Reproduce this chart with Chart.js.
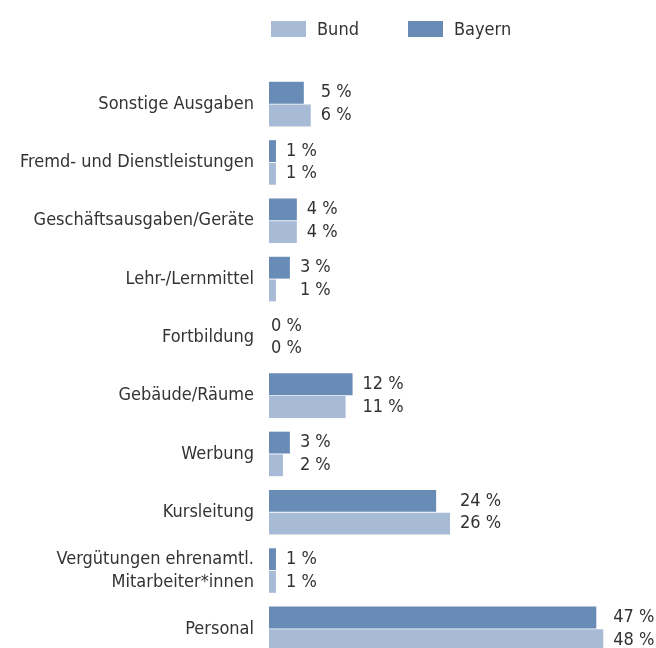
<!DOCTYPE html>
<html>
<head>
<meta charset="utf-8">
<script src="https://cdn.jsdelivr.net/npm/chart.js@4/dist/chart.umd.min.js"></script>
<style>
  html, body { margin: 0; padding: 0; background: #fff; overflow: hidden; }
  #wrap { position: relative; width: 656px; height: 658px; }
  #chart { position: absolute; top: 0; left: 0; }
  #legend { position: absolute; top: 0; left: 0; width: 656px; height: 60px; z-index: 2;
            font-family: 'DejaVu Sans Condensed', 'Liberation Sans Narrow', sans-serif; font-size: 18px; color: #333; }
  .item { position: absolute; top: 18px; display: flex; align-items: center; }
  .box { width: 35px; height: 16px; margin-right: 11px; }
</style>
</head>
<body>
<div id="wrap">
  <canvas id="chart" width="656" height="658" style="width:656px;height:658px"></canvas>
  <div id="legend"></div>
</div>
<script>
const categories = [
    'Sonstige Ausgaben',
    'Fremd- und Dienstleistungen',
    'Geschäftsausgaben/Geräte',
    'Lehr-/Lernmittel',
    'Fortbildung',
    'Gebäude/Räume',
    'Werbung',
    'Kursleitung',
    ['Vergütungen ehrenamtl.', 'Mitarbeiter*innen'],
    'Personal'
];
const bayern = [5, 1, 4, 3, 0, 12, 3, 24, 1, 47];
const bund = [6, 1, 4, 1, 0, 11, 2, 26, 1, 48];

const FONT = "'DejaVu Sans Condensed', 'Liberation Sans Narrow', sans-serif";
const TEXT = '#333333';
const BAYERN_COLOR = '#688cb6';
const BUND_COLOR = '#a8bbd6';

// legend (Bund first, like the original)
const legendItems = [
    { label: 'Bund', color: BUND_COLOR, left: 271 },
    { label: 'Bayern', color: BAYERN_COLOR, left: 408 }
];
const legendEl = document.getElementById('legend');
legendItems.forEach(it => {
    const d = document.createElement('div');
    d.className = 'item';
    d.style.left = it.left + 'px';
    d.innerHTML = `<span class="box" style="background:${it.color}"></span><span>${it.label}</span>`;
    legendEl.appendChild(d);
});

// value labels after the longer bar of each category
const valueLabels = {
    id: 'valueLabels',
    afterDatasetsDraw(chart) {
        const ctx = chart.ctx;
        const x = chart.scales.x;
        ctx.save();
        ctx.font = '18px ' + FONT;
        ctx.fillStyle = TEXT;
        ctx.textAlign = 'left';
        ctx.textBaseline = 'middle';
        chart.data.datasets.forEach((ds, di) => {
            const meta = chart.getDatasetMeta(di);
            meta.data.forEach((bar, i) => {
                const maxVal = Math.max(bayern[i], bund[i]);
                const px = x.getPixelForValue(maxVal) + (maxVal > 0 ? 10 : 2);
                ctx.fillText(ds.data[i] + ' %', px, bar.y);
            });
        });
        ctx.restore();
    }
};

new Chart(document.getElementById('chart').getContext('2d'), {
    type: 'bar',
    data: {
        labels: categories,
        datasets: [
            { label: 'Bayern', data: bayern, backgroundColor: BAYERN_COLOR },
            { label: 'Bund', data: bund, backgroundColor: BUND_COLOR }
        ]
    },
    options: {
        indexAxis: 'y',
        responsive: false,
        maintainAspectRatio: false,
        animation: false,
        categoryPercentage: 0.78,
        barPercentage: 0.96,
        layout: { padding: { top: 75, right: 4, bottom: 0, left: 0 } },
        scales: {
            x: {
                display: false,
                min: 0,
                max: 55
            },
            y: {
                grid: { display: false, drawTicks: false },
                border: { display: false },
                ticks: {
                    color: TEXT,
                    font: { family: FONT, size: 18, lineHeight: 1.3 },
                    padding: 15
                },
                afterFit(scale) {
                    scale.width = 269;
                    scale.paddingTop = 0;
                    scale.paddingBottom = 0;
                }
            }
        },
        plugins: {
            legend: { display: false },
            tooltip: { enabled: false }
        }
    },
    plugins: [valueLabels]
});
</script>
</body>
</html>
